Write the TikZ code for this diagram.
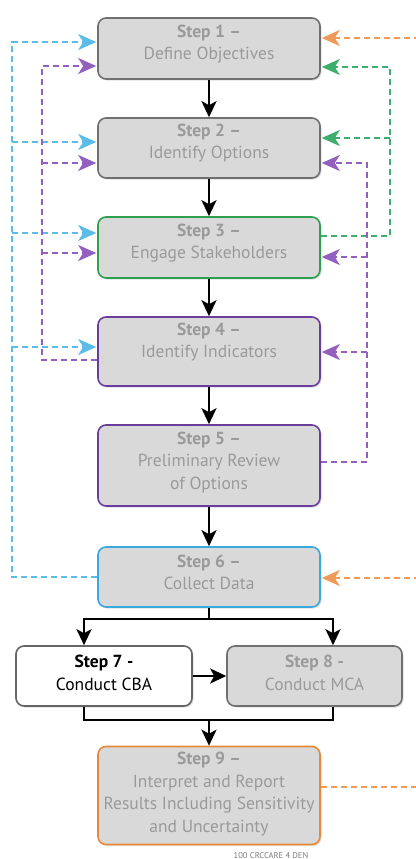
\documentclass[tikz,border=0pt]{standalone}
\usepackage{fontspec}
\setmainfont{PT Sans}
\usetikzlibrary{arrows.meta,shadows}

\definecolor{boxfill}{HTML}{D9D9D9}
\definecolor{boxline}{HTML}{707070}
\definecolor{txtgray}{HTML}{9A9A9A}
\definecolor{grnline}{HTML}{2E9E4F}
\definecolor{grndash}{HTML}{3DAE6C}
\definecolor{purline}{HTML}{6A3D9A}
\definecolor{purdash}{HTML}{9460C0}
\definecolor{bluline}{HTML}{3AA8DC}
\definecolor{bludash}{HTML}{5CBCE8}
\definecolor{oraline}{HTML}{E8893A}
\definecolor{oradash}{HTML}{F09A5A}

\tikzset{
  stepbox/.style={draw=boxline, fill=boxfill, line width=1.6pt, rounded corners=8pt,
    minimum width=222pt, inner sep=0pt,
    drop shadow={opacity=0.25, shadow xshift=1.5pt, shadow yshift=-1.5pt}},
  steptxt/.style={text=txtgray, align=center, font=\fontsize{17.5}{22.5}\selectfont, inner sep=0pt},
  flow/.style={line width=2.5pt, black},
  flowarr/.style={flow, -{Stealth[length=16pt,width=15pt,inset=4pt]}},
  fb/.style={line width=2.4pt, dash pattern=on 6pt off 4pt,
    -{Stealth[length=18pt,width=16pt,inset=5pt]}, shorten >=1pt},
  fbline/.style={line width=2.4pt, dash pattern=on 6pt off 4pt},
}

\begin{document}
\begin{tikzpicture}[x=1pt,y=-1pt]
\useasboundingbox (0,0) rectangle (415,859);

% ---- step boxes ----
\node[stepbox, minimum height=61pt] (s1) at (209,48.5) {};
\node[stepbox, minimum height=60pt] (s2) at (209,148) {};
\node[stepbox, draw=grnline, minimum height=61pt] (s3) at (209,247.5) {};
\node[stepbox, draw=purline, minimum height=69pt] (s4) at (209,351.5) {};
\node[stepbox, draw=purline, minimum height=81pt] (s5) at (209,465.5) {};
\node[stepbox, draw=bluline, minimum height=60pt] (s6) at (209,577) {};
\node[stepbox, draw=boxline!90!black, fill=white, minimum width=176pt, minimum height=60pt] (s7) at (104,676) {};
\node[stepbox, minimum width=175pt, minimum height=60pt] (s8) at (314.5,676) {};
\node[stepbox, draw=oraline, minimum height=98pt] (s9) at (209,795.5) {};

% ---- step texts ----
\node[steptxt] (t1) at (209,44) {\textbf{Step 1 –}\\Define Objectives};
\node[steptxt] (t2) at (209,143) {\textbf{Step 2 –}\\Identify Options};
\node[steptxt] (t3) at (209,243) {\textbf{Step 3 –}\\Engage Stakeholders};
\node[steptxt] (t4) at (209,342) {\textbf{Step 4 –}\\Identify Indicators};
\node[steptxt] (t5) at (209,462) {\textbf{Step 5 –}\\Preliminary Review\\of Options};
\node[steptxt] (t6) at (209,572.5) {\textbf{Step 6 –}\\Collect Data};
\node[steptxt, text=black] (t7) at (104,673) {\textbf{Step 7 -}\\Conduct CBA};
\node[steptxt] (t8) at (314.5,673) {\textbf{Step 8 -}\\Conduct MCA};
\node[steptxt] (t9) at (209,794) {\textbf{Step 9 –}\\Interpret and Report\\Results Including Sensitivity\\and Uncertainty};

\node[text=txtgray!80!black, font=\fontsize{8.5}{9}\selectfont, anchor=north, inner sep=0pt] (ft) at (271,852) {100 CRCCARE 4 DEN};

% ---- main flow ----
\draw[flowarr] (s1.south) -- (s2.north);
\draw[flowarr] (s2.south) -- (s3.north);
\draw[flowarr] (s3.south) -- (s4.north);
\draw[flowarr] (s4.south) -- (s5.north);
\draw[flowarr] (s5.south) -- (s6.north);
\coordinate (j6) at (209,619);
\coordinate (j7) at (84,619);
\coordinate (j8) at (333,619);
\draw[flow] (s6.south) -- (j6);
\draw[flowarr] (j6) -- (j7) -- (j7 |- s7.north);
\draw[flowarr] (j6) -- (j8) -- (j8 |- s8.north);
\draw[flowarr] (s7.east) -- (s8.west);
\coordinate (k9) at (209,720);
\coordinate (k7) at (84,720);
\coordinate (k8) at (333,720);
\draw[flow] (k7 |- s7.south) -- (k7) -- (k8) -- (k8 |- s8.south);
\draw[flowarr] (k9) -- (s9.north);

% ---- feedback from step 6 (blue, left) ----
\coordinate (b1) at (12,42);
\coordinate (b2) at (12,142);
\coordinate (b3) at (12,233);
\coordinate (b4) at (12,347);
\draw[fb, bludash] (s6.west) -| (b1) -- (b1 -| s1.west);
\draw[fb, bludash] (b2) -- (b2 -| s2.west);
\draw[fb, bludash] (b3) -- (b3 -| s3.west);
\draw[fb, bludash] (b4) -- (b4 -| s4.west);

% ---- feedback from step 4 (purple, left) ----
\coordinate (q1) at (42,66);
\coordinate (q2) at (42,163);
\coordinate (q3) at (42,253);
\coordinate (q4) at (42,360);
\draw[fb, purdash] (q4 -| s4.west) -- (q4) -- (q1) -- (q1 -| s1.west);
\draw[fb, purdash] (q2) -- (q2 -| s2.west);
\draw[fb, purdash] (q3) -- (q3 -| s3.west);

% ---- feedback from step 3 (green, right) ----
\coordinate (g1) at (390,67);
\coordinate (g2) at (390,138);
\coordinate (g3) at (390,236);
\draw[fb, grndash] (g3 -| s3.east) -- (g3) -- (g1) -- (g1 -| s1.east);
\draw[fb, grndash] (g2) -- (g2 -| s2.east);

% ---- feedback from step 5 (purple, right) ----
\coordinate (p2) at (367,163);
\coordinate (p3) at (367,257);
\coordinate (p4) at (367,352);
\coordinate (p5) at (367,462);
\draw[fb, purdash] (p5 -| s5.east) -- (p5) -- (p2) -- (p2 -| s2.east);
\draw[fb, purdash] (p3) -- (p3 -| s3.east);
\draw[fb, purdash] (p4) -- (p4 -| s4.east);

% ---- feedback from step 9 (orange, right) ----
\coordinate (o1) at (420,38);
\coordinate (o6) at (420,578);
\coordinate (o9) at (420,787);
\draw[fb, oradash] (o1) -- (o1 -| s1.east);
\draw[fb, oradash] (o6) -- (o6 -| s6.east);
\draw[fbline, oradash] (o9 -| s9.east) -- (o9);
\end{tikzpicture}
\end{document}
